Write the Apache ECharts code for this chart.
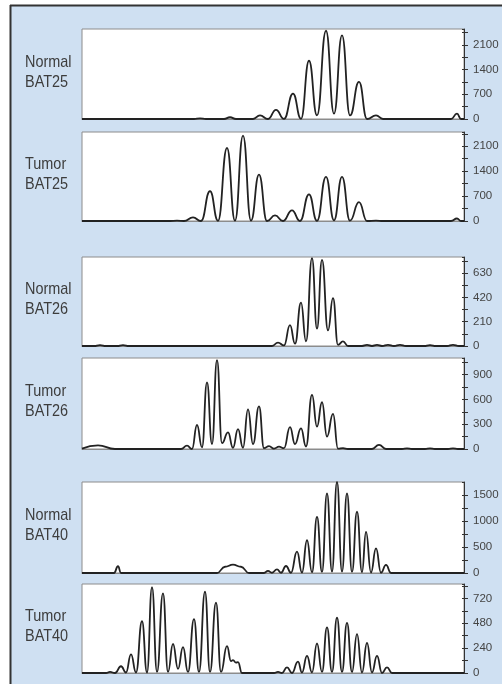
<!DOCTYPE html>
<html>
<head>
<meta charset="utf-8">
<script src="https://cdn.jsdelivr.net/npm/echarts@6/dist/echarts.min.js"></script>
<style>
  html, body { margin: 0; padding: 0; background: #ffffff; }
  #chart { width: 502px; height: 686px; }
</style>
</head>
<body>
<div id="chart"></div>
<script>
// Fragment-size scans: [position, signal] at the peak tops and the troughs between them.
const normalBAT25 = [
  [0, 0], [112, 0], [118, 15], [124, 0], [142, 0], [148, 50], [154, 0],
  [171, 0], [178, 100], [186, 0], [194, 260], [202, 5], [211, 720], [219, 5],
  [227, 1650], [235, 100], [244, 2500], [252, 150], [260, 2370], [268, 100],
  [277, 1050], [285, 0], [294, 100], [301, 0], [369, 0], [375, 150], [379, 0], [382, 0]
];
const tumorBAT25 = [
  [0, 0], [88, 0], [95, 8], [102, 0], [111, 100], [119, 0], [128, 840], [136, 5],
  [145, 2050], [153, 10], [161, 2400], [169, 10], [177, 1300], [185, 0],
  [193, 160], [201, 0], [210, 300], [218, 0], [227, 750], [235, 5],
  [244, 1240], [252, 20], [260, 1240], [268, 10], [277, 530], [285, 0],
  [294, 10], [301, 0], [369, 0], [375, 70], [379, 0], [382, 0]
];
const normalBAT26 = [
  [0, 0], [12, 0], [18, 8], [24, 0], [35, 0], [41, 8], [47, 0],
  [190, 0], [196, 30], [202, 5], [208, 180], [213, 20], [219, 375], [224, 40],
  [230, 760], [235, 150], [240, 745], [246, 135], [251, 415], [256, 10],
  [261, 40], [266, 0], [280, 0], [285, 10], [290, 0], [295, 10], [300, 0],
  [306, 10], [312, 0], [318, 10], [324, 0], [342, 0], [348, 8], [354, 0],
  [365, 0], [371, 10], [377, 0], [382, 0]
];
const tumorBAT26 = [
  [0, 5], [16, 45], [33, 0], [99, 0], [105, 40], [110, 0], [115, 290], [120, 20],
  [125, 805], [130, 60], [135, 1075], [140, 70], [146, 200], [151, 15],
  [156, 240], [161, 15], [166, 480], [171, 60], [177, 515], [182, 10],
  [187, 35], [192, 5], [197, 28], [202, 10], [208, 265], [213, 60],
  [219, 250], [224, 30], [230, 655], [235, 270], [240, 565], [245, 150],
  [251, 425], [256, 5], [261, 10], [266, 0], [290, 0], [297, 50], [304, 0],
  [320, 0], [325, 8], [330, 0], [343, 0], [348, 8], [353, 0],
  [366, 0], [371, 8], [376, 0], [382, 0]
];
const normalBAT40 = [
  [0, 0], [32, 0], [36, 130], [39, 0], [135, 0], [143, 120], [151, 160],
  [159, 120], [167, 0], [182, 0], [186, 40], [190, 5], [195, 70], [199, 5],
  [204, 135], [209, 5], [215, 410], [220, 10], [225, 630], [230, 15],
  [235, 1080], [240, 20], [245, 1530], [250, 25], [255, 1750], [260, 25],
  [265, 1530], [270, 20], [275, 1180], [280, 15], [284, 790], [289, 10],
  [294, 475], [299, 5], [304, 155], [309, 0], [382, 0]
];
const tumorBAT40 = [
  [0, 0], [24, 0], [28, 10], [33, 0], [39, 65], [44, 5], [49, 180], [54, 5],
  [60, 500], [65, 5], [70, 830], [75, 10], [81, 770], [86, 10], [91, 280],
  [96, 40], [101, 250], [106, 10], [112, 520], [117, 10], [123, 785],
  [128, 10], [134, 680], [139, 10], [145, 260], [149, 115], [151, 125],
  [154, 100], [156, 105], [160, 0], [192, 0], [196, 10], [200, 0],
  [205, 55], [210, 0], [216, 110], [220, 5], [225, 165], [230, 5],
  [235, 285], [240, 10], [245, 440], [250, 10], [255, 535], [260, 10],
  [265, 485], [270, 10], [275, 375], [280, 5], [285, 290], [290, 5],
  [295, 165], [300, 0], [305, 55], [310, 0], [382, 0]
];

const traces = [normalBAT25, tumorBAT25, normalBAT26, tumorBAT26, normalBAT40, tumorBAT40];
const sampleGroups = ['Normal', 'Tumor', 'Normal', 'Tumor', 'Normal', 'Tumor'];
const markerNames = ['BAT25', 'BAT25', 'BAT26', 'BAT26', 'BAT40', 'BAT40'];
const signalMax = [2550, 2500, 770, 1100, 1750, 860];
const tickStep = [350, 350, 105, 150, 250, 120];
const labelStep = [700, 700, 210, 300, 500, 240];
const labelTop = [2100, 2100, 630, 900, 1500, 720];
const scanEnd = 382;

// Panel layout (px)
const panelLeft = 82, panelRight = 38;
const panelTop = [29, 132, 257, 358, 482, 584];
const panelHeight = [90, 89, 89, 91, 91, 89];

const textFont = '"Liberation Sans", Arial, sans-serif';

const chart = echarts.init(document.getElementById('chart'), null, { renderer: 'canvas' });

const grids = [], xAxes = [], yAxes = [], series = [];
const graphics = [
  { type: 'rect', z: -10, shape: { x: 11, y: 6, width: 491, height: 678 }, style: { fill: '#cfe0f2' } },
  { type: 'line', z: -9, shape: { x1: 10.5, y1: 5, x2: 10.5, y2: 684 }, style: { stroke: '#333333', lineWidth: 2 } },
  { type: 'line', z: -9, shape: { x1: 10, y1: 5.5, x2: 502, y2: 5.5 }, style: { stroke: '#333333', lineWidth: 2 } }
];

traces.forEach((data, i) => {
  grids.push({
    left: panelLeft, right: panelRight, top: panelTop[i], height: panelHeight[i],
    show: true, backgroundColor: '#ffffff', borderColor: '#8c8c8c', borderWidth: 1
  });
  xAxes.push({
    gridIndex: i, type: 'value', min: 0, max: scanEnd,
    axisLine: { show: true, onZero: false, lineStyle: { color: '#8c8c8c', width: 1 } },
    axisTick: { show: false }, axisLabel: { show: false }, splitLine: { show: false }
  });
  // Signal axis with outward ticks and labels
  yAxes.push({
    gridIndex: i, type: 'value', position: 'right',
    min: 0, max: signalMax[i], interval: tickStep[i],
    axisLine: { show: true, onZero: false, lineStyle: { color: '#333333', width: 1 } },
    axisTick: { show: true, length: 4, lineStyle: { color: '#333333', width: 1 } },
    splitLine: { show: false },
    axisLabel: {
      show: true, margin: 9, color: '#444444', fontSize: 11.5, fontFamily: textFont,
      showMaxLabel: false,
      formatter: (v) => (v % labelStep[i] === 0 && v <= labelTop[i]) ? String(v) : ''
    }
  });
  series.push({
    type: 'line', xAxisIndex: i, yAxisIndex: i, data: data,
    smooth: 0.5, smoothMonotone: 'x', showSymbol: false, silent: true,
    lineStyle: { color: '#222222', width: 1.8 }
  });
  // Sample and marker names, set in a condensed face to the left of each panel
  const mid = panelTop[i] + panelHeight[i] / 2;
  [sampleGroups[i], markerNames[i]].forEach((t, k) => {
    graphics.push({
      type: 'text', x: 25, y: mid - 12 + k * 20, scaleX: 0.85,
      style: { text: t, font: '17px ' + textFont, fill: '#3d3d3d', textVerticalAlign: 'middle', textAlign: 'left' }
    });
  });
});

// Inner half of each tick, so the tick marks cross the signal axis line
traces.forEach((data, i) => {
  yAxes.push({
    gridIndex: i, type: 'value', position: 'right',
    min: 0, max: signalMax[i], interval: tickStep[i],
    axisLine: { show: false, onZero: false },
    axisTick: { show: true, inside: true, length: 2, lineStyle: { color: '#333333', width: 1 } },
    axisLabel: { show: false }, splitLine: { show: false }
  });
});

chart.setOption({
  animation: false,
  backgroundColor: '#ffffff',
  graphic: graphics,
  grid: grids,
  xAxis: xAxes,
  yAxis: yAxes,
  series: series
});
</script>
</body>
</html>
